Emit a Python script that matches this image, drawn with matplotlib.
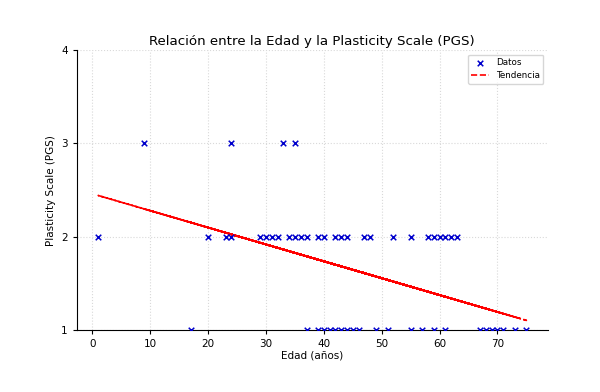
import numpy as np
import matplotlib
matplotlib.use('Agg')
import matplotlib.pyplot as plt

# edad y puntuacion PGS, en el orden de la encuesta
edad = [35, 62, 17, 24, 41, 58, 9, 70, 29, 45, 1, 67, 33, 52, 39, 73, 20, 61,
        43, 30, 75, 48, 36, 57, 23, 69, 40, 55, 31, 44, 63, 37, 49, 60, 24, 71,
        34, 42, 59, 47, 32, 68, 39, 51, 35, 46, 55, 40, 61, 43, 37, 42, 59, 44]
pgs = [2, 2, 1, 3, 1, 2, 3, 1, 2, 1, 2, 1, 3, 2, 2, 1, 2, 1,
       2, 2, 1, 2, 2, 1, 2, 1, 2, 2, 2, 2, 2, 1, 1, 2, 2, 1,
       2, 1, 1, 2, 2, 1, 1, 1, 3, 1, 1, 1, 2, 1, 2, 2, 2, 1]
x = np.array(edad)
y = np.array(pgs)

pend, inter = np.polyfit(x, y, 1)

fig = plt.figure(figsize=(6, 3.92), dpi=100)
ax = fig.add_axes([0.128, 0.158, 0.785, 0.714])
ax.scatter(x, y, marker='x', color='#0000cc', s=16, lw=1.1, label='Datos', zorder=3)
ax.plot(x, pend * x + inter, 'r--', lw=1.2, label='Tendencia', zorder=2)
ax.set_ylim(1, 4)
ax.set_yticks([1, 2, 3, 4])
ax.set_xticks(range(0, 80, 10))
ax.grid(True, ls=':', color='0.85', lw=0.8)
for s in ('top', 'right'):
    ax.spines[s].set_visible(False)
ax.tick_params(labelsize=7.5, length=3)
ax.set_xlabel('Edad (años)', fontsize=7.5, labelpad=1)
ax.set_ylabel('Plasticity Scale (PGS)', fontsize=7.5)
ax.set_title('Relación entre la Edad y la Plasticity Scale (PGS)', fontsize=9.6, pad=4)
ax.legend(loc='upper right', fontsize=6.3, bbox_to_anchor=(1.0, 1.0))
fig.savefig('out.png', dpi=100)
